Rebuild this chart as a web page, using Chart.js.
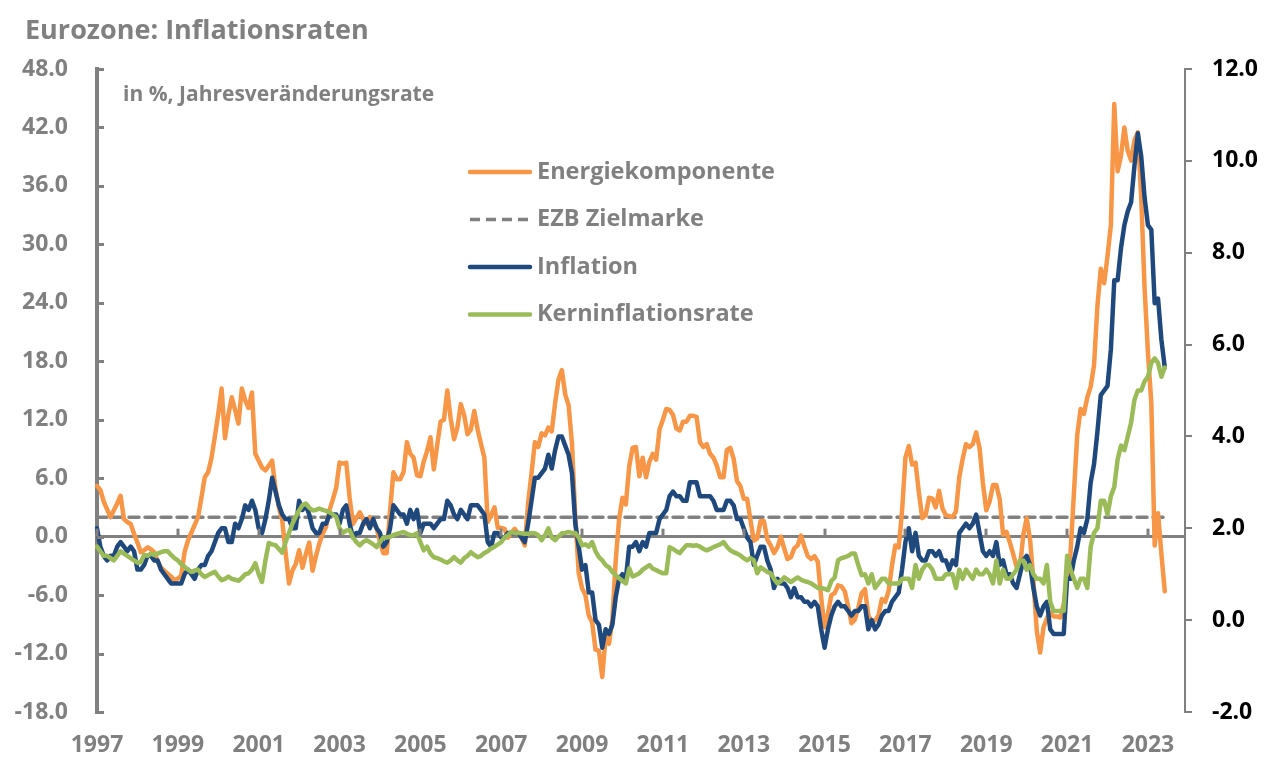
<!DOCTYPE html>
<html>
<head>
<meta charset="utf-8">
<title>Eurozone: Inflationsraten</title>
<script src="https://cdn.jsdelivr.net/npm/chart.js@4.4.0/dist/chart.umd.min.js"></script>
<style>
  body { margin: 0; background: #fff; }
  #wrap { width: 1267px; height: 760px; }
</style>
</head>
<body>
<div id="wrap"><canvas id="chart" width="1267" height="760"></canvas></div>
<script>
// Monatswerte Jan 1997 - Jun 2023, Veraenderung ggue. Vorjahr in %
var firstYear = 1997, lastYear = 2023;
var tickYears = [1997, 1999, 2001, 2003, 2005, 2007, 2009, 2011, 2013, 2015, 2017, 2019, 2021, 2023];

// Energiekomponente (linke Achse)
var energie = [
  5.2, 4.8, 3.6, 2.8, 2.0, 2.7, 3.4, 4.2, 1.8, 1.5, 1.3, 0.3,
  -0.6, -1.6, -1.4, -1.1, -1.3, -1.6, -2.5, -3.2, -3.5, -3.8, -4.1, -4.5,
  -4.3, -4.0, -1.6, -0.4, 0.4, 1.2, 2.0, 4.0, 6.1, 6.6, 8.1, 10.3,
  12.6, 15.2, 10.1, 12.5, 14.3, 13.0, 11.6, 15.2, 14.0, 13.2, 14.8, 8.5,
  7.8, 7.1, 6.8, 7.3, 7.8, 4.9, 3.0, 1.6, -1.6, -4.8, -3.5, -2.8,
  -1.4, -3.2, -1.8, -0.6, -3.5, -2.0, -0.7, 0.3, 1.0, 2.7, 3.8, 5.0,
  7.6, 7.5, 7.6, 4.0, 1.3, 1.9, 2.5, 1.8, 1.3, 2.0, 1.4, 0.9,
  -0.5, -1.7, -1.7, 2.7, 6.6, 5.9, 5.9, 6.6, 9.7, 8.5, 8.1, 6.3,
  6.2, 7.7, 8.8, 10.2, 6.9, 9.4, 11.8, 12.0, 15.0, 12.1, 10.0, 11.2,
  13.6, 12.5, 10.5, 11.0, 12.9, 11.0, 9.5, 8.1, 1.5, 2.2, 3.0, 0.9,
  0.9, 0.8, -0.1, 0.4, 0.8, 0.3, -0.1, -0.9, 3.5, 6.5, 9.7, 9.2,
  10.6, 10.4, 11.2, 10.8, 13.7, 16.1, 17.1, 14.6, 13.5, 9.6, 2.0, -3.7,
  -5.3, -6.0, -8.1, -8.8, -11.6, -11.7, -14.4, -10.2, -11.0, -8.5, -2.4, 1.8,
  4.0, 3.3, 7.2, 9.1, 9.2, 6.2, 8.1, 6.1, 7.7, 8.5, 7.9, 11.0,
  12.0, 13.1, 13.0, 12.5, 11.1, 10.9, 11.8, 11.8, 12.4, 12.4, 12.3, 9.7,
  9.2, 9.5, 8.5, 8.1, 7.3, 6.1, 6.1, 8.9, 9.1, 8.0, 5.7, 5.2,
  3.9, 3.9, 1.7, -0.4, -0.2, 1.6, 1.6, -0.3, -0.9, -1.7, -1.1, 0.0,
  -1.2, -2.3, -2.1, -1.2, -0.9, 0.1, -1.0, -2.0, -2.3, -2.0, -2.6, -6.3,
  -9.3, -7.9, -6.0, -5.8, -5.0, -5.1, -5.6, -7.2, -8.9, -8.5, -7.3, -5.8,
  -5.4, -8.1, -8.7, -8.6, -8.1, -6.4, -6.7, -5.6, -3.0, -0.9, -1.1, 2.6,
  8.1, 9.3, 7.4, 7.6, 4.5, 1.9, 2.2, 4.0, 3.9, 3.0, 4.7, 2.9,
  2.2, 2.1, 2.0, 2.6, 6.1, 8.0, 9.5, 9.2, 9.5, 10.7, 9.1, 5.5,
  2.7, 3.6, 5.3, 5.3, 3.8, 0.2, 0.5, -0.6, -1.8, -3.1, -3.2, 0.2,
  1.9, -0.3, -4.5, -9.7, -11.9, -9.3, -8.4, -7.8, -8.2, -8.2, -8.3, -6.9,
  -4.2, -1.7, 4.3, 10.4, 13.1, 12.6, 14.3, 15.4, 17.6, 23.7, 27.5, 26.0,
  28.8, 32.0, 44.4, 37.5, 39.1, 42.0, 39.6, 38.6, 40.7, 41.5, 34.9, 25.5,
  18.9, 13.7, -0.9, 2.4, -1.8, -5.6
];

// Inflation HVPI (rechte Achse)
var inflation = [
  2.0, 1.6, 1.4, 1.3, 1.4, 1.4, 1.6, 1.7, 1.6, 1.5, 1.6, 1.5,
  1.1, 1.1, 1.2, 1.4, 1.4, 1.3, 1.3, 1.1, 1.0, 0.9, 0.8, 0.8,
  0.8, 0.8, 1.0, 1.1, 1.0, 0.9, 1.1, 1.2, 1.2, 1.4, 1.5, 1.7,
  1.9, 2.0, 2.0, 1.7, 1.7, 2.1, 2.0, 2.2, 2.5, 2.4, 2.6, 2.4,
  2.0, 1.9, 2.2, 2.6, 3.1, 2.8, 2.5, 2.3, 2.2, 2.2, 2.0, 2.0,
  2.6, 2.4, 2.5, 2.3, 2.0, 1.9, 1.9, 2.1, 2.1, 2.3, 2.3, 2.3,
  2.1, 2.4, 2.5, 2.1, 1.8, 1.9, 1.9, 2.1, 2.2, 2.0, 2.2, 2.0,
  1.9, 1.6, 1.7, 2.0, 2.5, 2.4, 2.3, 2.3, 2.1, 2.4, 2.2, 2.4,
  1.9, 2.1, 2.1, 2.1, 2.0, 2.1, 2.2, 2.2, 2.6, 2.5, 2.3, 2.2,
  2.4, 2.3, 2.2, 2.5, 2.5, 2.5, 2.4, 2.3, 1.7, 1.6, 1.9, 1.9,
  1.8, 1.8, 1.9, 1.9, 1.9, 1.9, 1.8, 1.7, 2.1, 2.6, 3.1, 3.1,
  3.2, 3.3, 3.6, 3.3, 3.7, 4.0, 4.0, 3.8, 3.6, 3.2, 2.1, 1.6,
  1.1, 1.2, 0.6, 0.6, 0.0, -0.1, -0.6, -0.2, -0.3, -0.1, 0.5, 0.9,
  1.0, 0.9, 1.6, 1.6, 1.7, 1.5, 1.7, 1.6, 1.9, 1.9, 1.9, 2.2,
  2.3, 2.4, 2.7, 2.8, 2.7, 2.7, 2.6, 2.6, 3.0, 3.0, 3.0, 2.7,
  2.7, 2.7, 2.7, 2.6, 2.4, 2.4, 2.4, 2.6, 2.6, 2.5, 2.2, 2.2,
  2.0, 1.8, 1.7, 1.2, 1.4, 1.6, 1.6, 1.3, 1.1, 0.7, 0.9, 0.8,
  0.8, 0.7, 0.5, 0.7, 0.5, 0.5, 0.4, 0.4, 0.3, 0.4, 0.3, -0.2,
  -0.6, -0.2, 0.1, 0.3, 0.4, 0.3, 0.3, 0.2, 0.1, 0.2, 0.2, 0.3,
  0.3, -0.2, 0.0, -0.2, -0.1, 0.1, 0.2, 0.2, 0.4, 0.5, 0.6, 1.1,
  1.7, 2.0, 1.5, 1.9, 1.4, 1.3, 1.3, 1.5, 1.5, 1.4, 1.5, 1.3,
  1.3, 1.1, 1.3, 1.2, 1.9, 2.0, 2.1, 2.0, 2.1, 2.3, 1.9, 1.5,
  1.4, 1.5, 1.4, 1.7, 1.2, 1.3, 1.0, 1.0, 0.8, 0.7, 1.0, 1.3,
  1.4, 1.2, 0.7, 0.3, 0.1, 0.3, 0.4, -0.2, -0.3, -0.3, -0.3, -0.3,
  0.9, 0.9, 1.3, 1.6, 2.0, 1.9, 2.2, 3.0, 3.4, 4.1, 4.9, 5.0,
  5.1, 5.9, 7.4, 7.4, 8.1, 8.6, 8.9, 9.1, 9.9, 10.6, 10.1, 9.2,
  8.6, 8.5, 6.9, 7.0, 6.1, 5.5
];

// Kerninflationsrate (rechte Achse)
var kern = [
  1.6, 1.5, 1.4, 1.4, 1.35, 1.3, 1.4, 1.5, 1.45, 1.4, 1.35, 1.3,
  1.25, 1.26, 1.42, 1.4, 1.45, 1.42, 1.45, 1.48, 1.5, 1.5, 1.42, 1.35,
  1.3, 1.22, 1.16, 1.1, 1.05, 1.08, 1.1, 1.0, 0.94, 0.98, 1.02, 1.05,
  0.95, 0.87, 0.9, 0.95, 0.9, 0.88, 0.86, 0.92, 1.0, 1.02, 1.1, 1.24,
  1.0, 0.83, 1.3, 1.68, 1.65, 1.63, 1.55, 1.47, 1.7, 1.9, 2.1, 2.25,
  2.39, 2.5, 2.54, 2.45, 2.39, 2.4, 2.43, 2.4, 2.38, 2.35, 2.3, 2.25,
  2.0, 1.9, 1.95, 1.96, 1.8, 1.7, 1.63, 1.7, 1.74, 1.7, 1.65, 1.59,
  1.7, 1.8, 1.8, 1.82, 1.85, 1.88, 1.9, 1.92, 1.88, 1.85, 1.85, 1.89,
  1.7, 1.52, 1.6, 1.45, 1.37, 1.35, 1.32, 1.28, 1.25, 1.3, 1.37, 1.3,
  1.25, 1.35, 1.4, 1.48, 1.42, 1.37, 1.4, 1.46, 1.5, 1.56, 1.6, 1.65,
  1.7, 1.8, 1.85, 1.92, 1.9, 1.9, 1.89, 1.88, 1.88, 1.9, 1.89, 1.85,
  1.74, 1.85, 2.0, 1.8, 1.74, 1.82, 1.89, 1.9, 1.92, 1.9, 1.9, 1.8,
  1.63, 1.65, 1.6, 1.7, 1.5, 1.37, 1.3, 1.2, 1.15, 1.05, 0.98, 0.91,
  0.85, 0.8, 1.13, 0.95, 0.98, 1.02, 1.1, 1.15, 1.2, 1.12, 1.09, 1.05,
  1.02, 1.02, 1.59, 1.55, 1.5, 1.46, 1.55, 1.63, 1.63, 1.62, 1.63, 1.6,
  1.55, 1.52, 1.55, 1.59, 1.62, 1.65, 1.7, 1.6, 1.52, 1.48, 1.45, 1.41,
  1.35, 1.3, 1.35, 1.3, 1.02, 1.15, 1.1, 1.05, 1.02, 0.9, 0.8, 0.85,
  0.93, 0.88, 0.83, 0.88, 0.93, 0.88, 0.85, 0.83, 0.8, 0.75, 0.7, 0.7,
  0.68, 0.65, 0.85, 0.93, 1.3, 1.35, 1.37, 1.4, 1.45, 1.45, 1.2, 0.98,
  1.0, 0.8, 1.0, 0.7, 0.8, 0.9, 0.9, 0.8, 0.8, 0.8, 0.8, 0.9,
  0.9, 0.9, 0.7, 1.2, 0.9, 1.1, 1.2, 1.2, 1.1, 0.9, 0.9, 0.9,
  1.0, 1.0, 1.0, 0.7, 1.1, 0.9, 1.1, 1.0, 0.9, 1.1, 1.0, 1.0,
  1.1, 1.0, 0.8, 1.3, 0.8, 1.1, 0.9, 0.9, 1.0, 1.1, 1.3, 1.3,
  1.1, 1.2, 1.0, 0.9, 0.9, 0.8, 1.2, 0.4, 0.2, 0.2, 0.2, 0.2,
  1.4, 1.1, 0.9, 0.7, 0.9, 0.9, 0.7, 1.6, 1.9, 2.0, 2.6, 2.6,
  2.3, 2.7, 2.9, 3.5, 3.8, 3.7, 4.0, 4.3, 4.8, 5.0, 5.0, 5.2,
  5.3, 5.6, 5.7, 5.6, 5.3, 5.5
];

// EZB Zielmarke (linke Achse)
var ezbMonths = ['1997-01', '2023-06'];
var ezbZiel = [2.0, 2.0];

var months = [];
for (var yr = firstYear; yr <= lastYear; yr++) {
  for (var mo = 1; mo <= 12; mo++) months.push(yr + '-' + (mo < 10 ? '0' + mo : mo));
}

var grey = '#808080';
var fontFamily = '"Open Sans", Lato, sans-serif';
var boldFont = { family: fontFamily, weight: 'bold', size: 23 };

var extras = {
  id: 'extras',
  afterDraw: function(chart) {
    var ctx = chart.ctx, area = chart.chartArea;
    var sx = chart.scales.x, sy = chart.scales.y;
    ctx.save();
    // Teilstriche nach innen an der linken Achse
    ctx.strokeStyle = grey;
    ctx.lineWidth = 3;
    sy.ticks.forEach(function(t) {
      var py = Math.round(sy.getPixelForValue(t.value)) + 0.5;
      ctx.beginPath(); ctx.moveTo(area.left, py); ctx.lineTo(area.left + 7, py); ctx.stroke();
    });
    // Teilstriche auf der Nulllinie
    var y0 = sy.getPixelForValue(0);
    sx.ticks.forEach(function(t, i) {
      if (!t.label) return;
      var px = Math.round(sx.getPixelForTick(i));
      ctx.beginPath(); ctx.moveTo(px, y0); ctx.lineTo(px, y0 - 8); ctx.stroke();
    });
    ctx.fillStyle = grey;
    ctx.textBaseline = 'middle';
    ctx.textAlign = 'left';
    // Titel
    ctx.font = 'bold 27px ' + fontFamily;
    ctx.fillText('Eurozone: Inflationsraten', 25, 31);
    // Untertitel
    ctx.font = 'bold 21px ' + fontFamily;
    ctx.fillText('in %, Jahresveränderungsrate', 123, 95);
    // Legende
    ctx.font = 'bold 23.5px ' + fontFamily;
    chart.data.datasets.forEach(function(ds, i) {
      var ly = 172 + i * 47.5;
      ctx.strokeStyle = ds.borderColor;
      ctx.lineWidth = ds.borderWidth;
      ctx.setLineDash(ds.borderDash || []);
      ctx.lineCap = ds.borderDash ? 'butt' : 'round';
      ctx.beginPath(); ctx.moveTo(470, ly); ctx.lineTo(530, ly); ctx.stroke();
      ctx.setLineDash([]);
      ctx.fillStyle = grey;
      ctx.fillText(ds.label, 537, ly);
    });
    ctx.restore();
  }
};

new Chart(document.getElementById('chart'), {
  type: 'line',
  data: {
    labels: months,
    datasets: [
      {
        label: 'Energiekomponente',
        data: energie,
        yAxisID: 'y',
        borderColor: '#F79646',
        borderWidth: 4.5,
        order: 2
      },
      {
        label: 'EZB Zielmarke',
        data: ezbMonths.map(function(m, i) { return { x: m, y: ezbZiel[i] }; }),
        yAxisID: 'y',
        borderColor: grey,
        borderWidth: 3.5,
        borderDash: [10, 6],
        order: 3
      },
      {
        label: 'Inflation',
        data: inflation,
        yAxisID: 'y2',
        borderColor: '#1F497D',
        borderWidth: 4.5,
        order: 1
      },
      {
        label: 'Kerninflationsrate',
        data: kern,
        yAxisID: 'y2',
        borderColor: '#9BBB59',
        borderWidth: 4.5,
        order: 0
      }
    ]
  },
  options: {
    responsive: false,
    animation: false,
    layout: { padding: { left: 0, right: 0, top: 69, bottom: 0 } },
    elements: {
      point: { radius: 0 },
      line: { tension: 0, borderJoinStyle: 'round', borderCapStyle: 'round' }
    },
    scales: {
      x: {
        type: 'category',
        offset: false,
        border: { display: false },
        grid: { display: false, drawTicks: false },
        ticks: {
          autoSkip: false,
          maxRotation: 0,
          minRotation: 0,
          padding: 20,
          color: grey,
          font: boldFont,
          callback: function(val) {
            var l = this.getLabelForValue(val);
            var y = +l.slice(0, 4);
            return (l.slice(5) === '01' && tickYears.indexOf(y) >= 0) ? String(y) : '';
          }
        },
        afterFit: function(s) { s.height = 48; }
      },
      y: {
        position: 'left',
        min: -18,
        max: 48,
        border: { color: grey, width: 4 },
        grid: {
          drawTicks: false,
          lineWidth: 3,
          color: function(c) { return c.tick && c.tick.value === 0 ? grey : 'rgba(0,0,0,0)'; }
        },
        ticks: {
          stepSize: 6,
          padding: 29,
          color: grey,
          font: boldFont,
          callback: function(v) { return v.toFixed(1); }
        },
        afterFit: function(s) { s.width = 97; }
      },
      y2: {
        position: 'right',
        min: -2,
        max: 12,
        border: { color: grey, width: 2 },
        grid: { drawOnChartArea: false, tickLength: 7, color: grey, lineWidth: 2 },
        ticks: {
          stepSize: 2,
          padding: 20,
          color: '#000000',
          font: boldFont,
          callback: function(v) { return v.toFixed(1); }
        },
        afterFit: function(s) { s.width = 82; }
      }
    },
    plugins: {
      legend: { display: false },
      tooltip: { enabled: false },
      title: { display: false }
    }
  },
  plugins: [extras]
});
</script>
</body>
</html>
